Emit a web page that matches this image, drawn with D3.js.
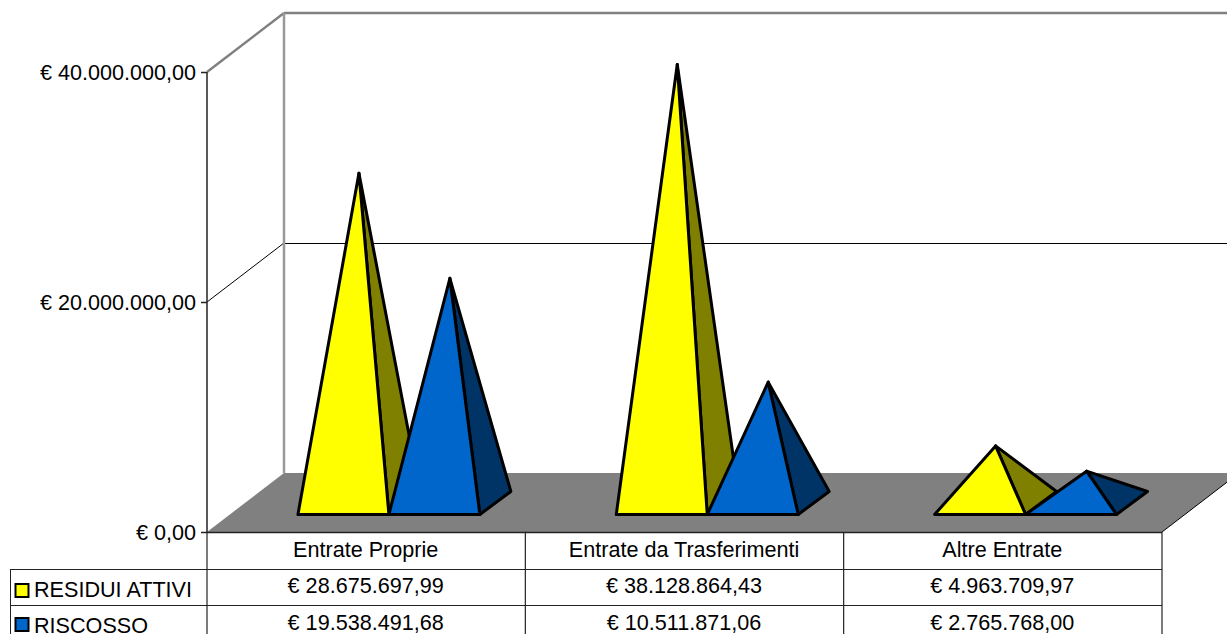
<!DOCTYPE html>
<html><head><meta charset="utf-8">
<script src="https://cdn.jsdelivr.net/npm/d3@7"></script>
<style>
html,body{margin:0;padding:0;background:#fff;overflow:hidden}
text{font-family:"Liberation Sans",Arial,sans-serif;font-size:21.6px;fill:#000}
</style></head><body>
<svg id="c" width="1227" height="634"></svg>
<script>
const categories = ["Entrate Proprie","Entrate da Trasferimenti","Altre Entrate"];
const seriesNames = ["RESIDUI ATTIVI","RISCOSSO"];
const residuiAttivi = [28675697.99,38128864.43,4963709.97];
const riscosso = [19538491.68,10511871.06,2765768.00];
const tickValues = [0,20000000,40000000];
const tickLabels = ["€ 0,00","€ 20.000.000,00","€ 40.000.000,00"];
const residuiLabels = ["€ 28.675.697,99","€ 38.128.864,43","€ 4.963.709,97"];
const riscossoLabels = ["€ 19.538.491,68","€ 10.511.871,06","€ 2.765.768,00"];
const frontColors = ["#FFFF00","#0066CC"];
const sideColors = ["#808000","#003366"];

const svg = d3.select("#c");
const L=207,R=1162,T=72,B=532, DX=77, DY=59;
const y = d3.scaleLinear().domain([0,40000000]).range([B,T]);
const x = d3.scaleBand().domain(categories).range([L,R]);
const ser = d3.scaleBand().domain(seriesNames).range([0,x.bandwidth()]).paddingInner(0).paddingOuter(0.75).align(2/3);
const line=(a,b,c,d,col,w)=>svg.append("line").attr("x1",a).attr("y1",b).attr("x2",c).attr("y2",d).attr("stroke",col).attr("stroke-width",w);

// floor
svg.append("polygon").attr("points",[[L,B],[R,B],[R+DX,B-DY],[L+DX,B-DY]].join(" ")).attr("fill","#808080");
line(R,B,R+DX,B-DY,"#000",1);
// walls
line(L+DX,y(40000000)-DY,1227,y(40000000)-DY,"#808080",2.5);
line(L+DX,y(20000000)-DY+.5,1227,y(20000000)-DY+.5,"#000",1);
line(L,y(40000000),L+DX,y(40000000)-DY,"#808080",2.5);
line(L,y(20000000),L+DX,y(20000000)-DY,"#000",1);
line(L+DX,y(40000000)-DY,L+DX,B-DY,"#999",2.5);

// axis
const axis = d3.axisLeft(y).tickValues(tickValues).tickFormat((d,i)=>tickLabels[i]).tickSize(6).tickPadding(5);
const ga = svg.append("g").attr("transform",`translate(${L},0)`).call(axis);
ga.selectAll("text").style("font-size","21.6px").style("font-family",'"Liberation Sans",Arial,sans-serif').attr("dy","0.33em");
ga.selectAll("line,path").attr("stroke","#222").attr("stroke-width",1.5);
ga.select("path").attr("d",`M0,${T}V${B}`);

// pyramids
const inset=17.5, depX=31, depY=23;
[residuiAttivi,riscosso].forEach((vals,s)=>{
  vals.forEach((v,i)=>{
    const x0=x(categories[i])+ser(seriesNames[s]), x1=x0+ser.bandwidth();
    const by=B-inset;
    const ax=(x0+x1)/2+depX/2, ay=by-depY/2-(B-y(v));
    const g=svg.append("g").attr("stroke","#000").attr("stroke-width",3).attr("stroke-linejoin","round");
    g.append("polygon").attr("points",[[x1,by],[x1+depX,by-depY],[ax,ay]].join(" ")).attr("fill",sideColors[s]);
    g.append("polygon").attr("points",[[x0,by],[x1,by],[ax,ay]].join(" ")).attr("fill",frontColors[s]);
  });
});

// data table
const rows=[532,569,605,642];
const cols=[L,...categories.map(c=>x(c)+x.bandwidth())];
rows.forEach((ry,i)=>{ line(i==0?L:10,ry+.5,R,ry+.5,"#222",i==0?1.5:1); });
cols.forEach(cx=>line(cx,532,cx,634,"#222",1.2));
line(10.5,569,10.5,634,"#222",1);
const cell=(t,cx,by)=>svg.append("text").attr("x",cx).attr("y",by).attr("text-anchor","middle").text(t);
categories.forEach((c,i)=>{
  const cx=x(c)+x.bandwidth()/2-0.5;
  cell(c,cx,557); cell(residuiLabels[i],cx,593); cell(riscossoLabels[i],cx,630);
});
seriesNames.forEach((n,s)=>{
  const ty=[597,633][s], sy=[584,618][s];
  svg.append("rect").attr("x",15.5).attr("y",sy).attr("width",13).attr("height",13).attr("fill",frontColors[s]).attr("stroke","#000").attr("stroke-width",2);
  svg.append("text").attr("x",34).attr("y",ty).text(n);
});
</script></body></html>
